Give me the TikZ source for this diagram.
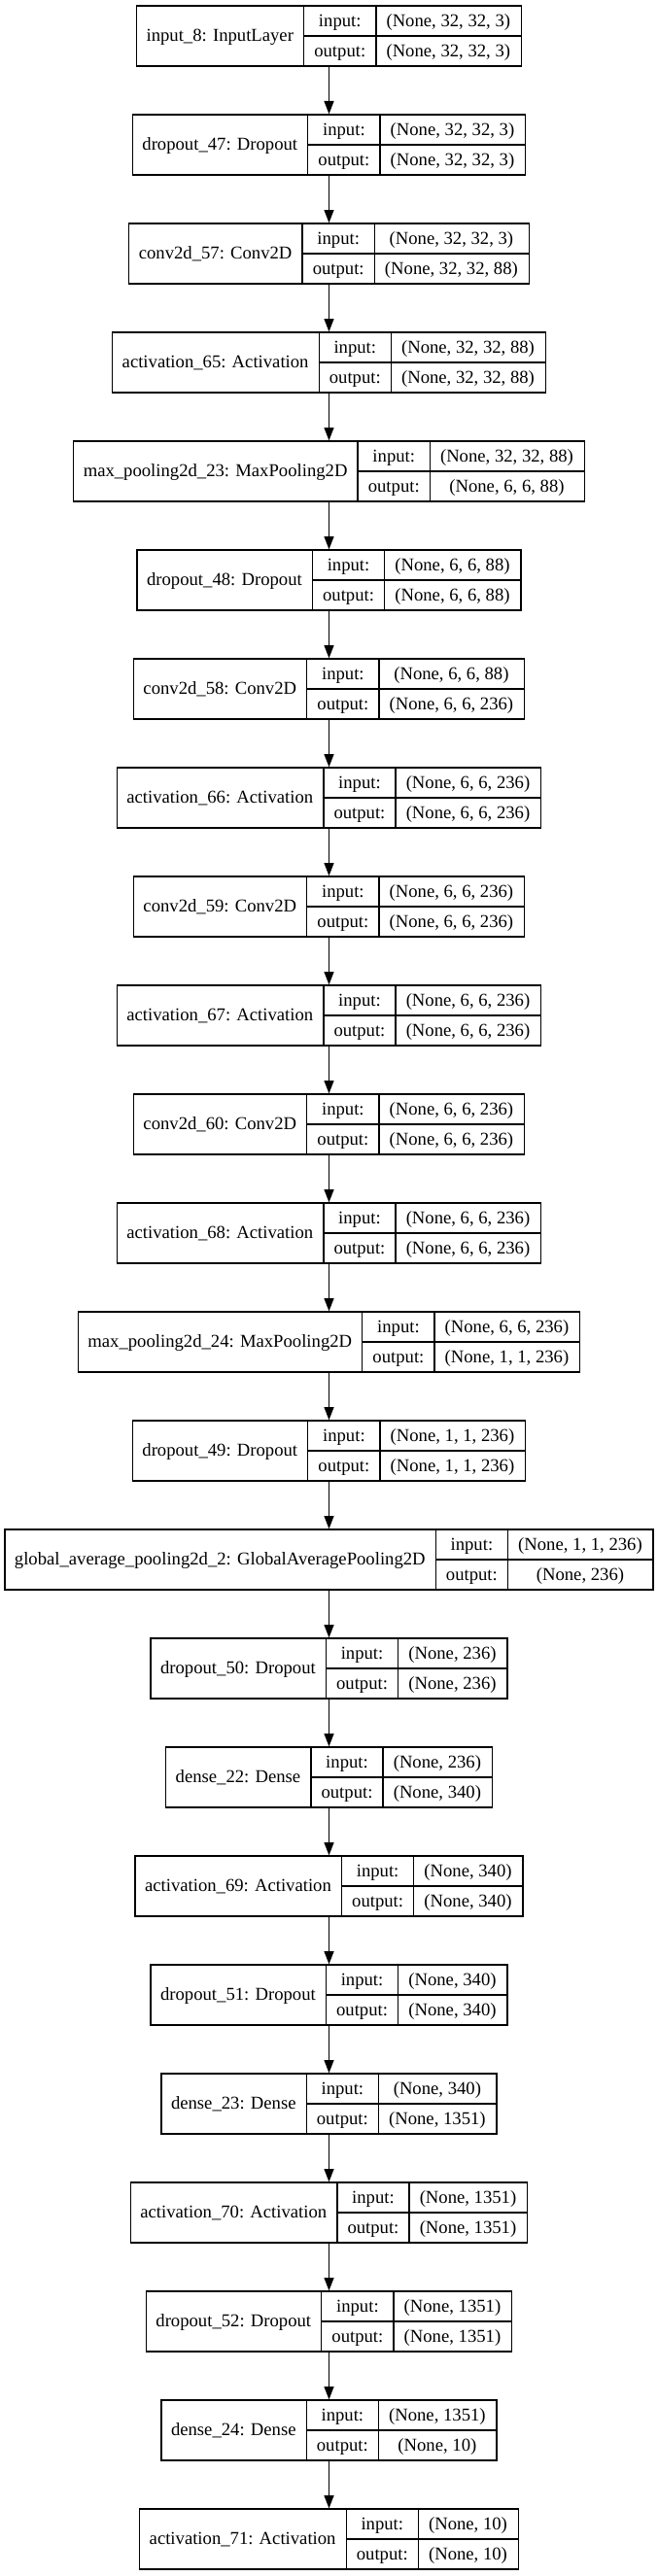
\documentclass[tikz,border=0pt]{standalone}
\usepackage{fontspec}
\setmainfont{Liberation Serif}
\usetikzlibrary{arrows.meta}
\newlength\wA \newlength\wB \newlength\wC \newlength\wD \newlength\wT
\newcommand\lf{\fontsize{14pt}{16.8pt}\selectfont}
\tikzset{
  recbox/.style={draw, line width=1pt, minimum height=46.5pt, inner sep=0pt},
  fld/.style={font=\lf, inner sep=0pt, text height=11.4pt, text depth=2.6pt, anchor=center},
  rule/.style={line width=1pt},
  arr/.style={line width=1pt, -{Triangle[length=10pt,width=7.5pt]}}
}
\newcommand\measure[3]{%
  \pgfinterruptpicture
  \settowidth\wA{\lf #1}\global\wA=\wA
  \settowidth\wB{\lf output:}\global\wB=\wB
  \settowidth\wC{\lf #2}\settowidth\wD{\lf #3}%
  \ifdim\wD>\wC \wC=\wD\fi
  \global\wC=\wC
  \endpgfinterruptpicture
  \global\advance\wA 16pt
  \global\advance\wB 16pt
  \global\advance\wC 16pt
  \global\wT=\wA \global\advance\wT\wB \global\advance\wT\wC
}
\newcommand\layer[5]{%
  \measure{#3}{#4}{#5}%
  \pgfmathsetmacro\yc{-(27.75+84*#2)}%
  \node[recbox, minimum width=\wT] (#1) at (253.875pt,\yc pt) {};
  \node[fld] (#1-name) at ([xshift=0.5*\wA]#1.west) {#3};
  \node[fld] (#1-inl) at ([xshift=\wA+0.5*\wB, yshift=11.625pt]#1.west) {input:};
  \node[fld] (#1-outl) at ([xshift=\wA+0.5*\wB, yshift=-11.625pt]#1.west) {output:};
  \node[fld] (#1-ins) at ([xshift=\wA+\wB+0.5*\wC, yshift=11.625pt]#1.west) {#4};
  \node[fld] (#1-outs) at ([xshift=\wA+\wB+0.5*\wC, yshift=-11.625pt]#1.west) {#5};
  \draw[rule] ([xshift=\wA]#1.north west) -- ([xshift=\wA]#1.south west);
  \draw[rule] ([xshift=\wA+\wB]#1.north west) -- ([xshift=\wA+\wB]#1.south west);
  \draw[rule] ([xshift=\wA]#1.west) -- (#1.east);
}
\begin{document}
\begin{tikzpicture}
\useasboundingbox (0,0) rectangle (507.75pt,-1988.25pt);
\layer{l0}{0}{input\_8: InputLayer}{(None, 32, 32, 3)}{(None, 32, 32, 3)}
\layer{l1}{1}{dropout\_47: Dropout}{(None, 32, 32, 3)}{(None, 32, 32, 3)}
\layer{l2}{2}{conv2d\_57: Conv2D}{(None, 32, 32, 3)}{(None, 32, 32, 88)}
\layer{l3}{3}{activation\_65: Activation}{(None, 32, 32, 88)}{(None, 32, 32, 88)}
\layer{l4}{4}{max\_pooling2d\_23: MaxPooling2D}{(None, 32, 32, 88)}{(None, 6, 6, 88)}
\layer{l5}{5}{dropout\_48: Dropout}{(None, 6, 6, 88)}{(None, 6, 6, 88)}
\layer{l6}{6}{conv2d\_58: Conv2D}{(None, 6, 6, 88)}{(None, 6, 6, 236)}
\layer{l7}{7}{activation\_66: Activation}{(None, 6, 6, 236)}{(None, 6, 6, 236)}
\layer{l8}{8}{conv2d\_59: Conv2D}{(None, 6, 6, 236)}{(None, 6, 6, 236)}
\layer{l9}{9}{activation\_67: Activation}{(None, 6, 6, 236)}{(None, 6, 6, 236)}
\layer{l10}{10}{conv2d\_60: Conv2D}{(None, 6, 6, 236)}{(None, 6, 6, 236)}
\layer{l11}{11}{activation\_68: Activation}{(None, 6, 6, 236)}{(None, 6, 6, 236)}
\layer{l12}{12}{max\_pooling2d\_24: MaxPooling2D}{(None, 6, 6, 236)}{(None, 1, 1, 236)}
\layer{l13}{13}{dropout\_49: Dropout}{(None, 1, 1, 236)}{(None, 1, 1, 236)}
\layer{l14}{14}{global\_average\_pooling2d\_2: GlobalAveragePooling2D}{(None, 1, 1, 236)}{(None, 236)}
\layer{l15}{15}{dropout\_50: Dropout}{(None, 236)}{(None, 236)}
\layer{l16}{16}{dense\_22: Dense}{(None, 236)}{(None, 340)}
\layer{l17}{17}{activation\_69: Activation}{(None, 340)}{(None, 340)}
\layer{l18}{18}{dropout\_51: Dropout}{(None, 340)}{(None, 340)}
\layer{l19}{19}{dense\_23: Dense}{(None, 340)}{(None, 1351)}
\layer{l20}{20}{activation\_70: Activation}{(None, 1351)}{(None, 1351)}
\layer{l21}{21}{dropout\_52: Dropout}{(None, 1351)}{(None, 1351)}
\layer{l22}{22}{dense\_24: Dense}{(None, 1351)}{(None, 10)}
\layer{l23}{23}{activation\_71: Activation}{(None, 10)}{(None, 10)}
\foreach \a/\b in {0/1,1/2,2/3,3/4,4/5,5/6,6/7,7/8,8/9,9/10,10/11,11/12,12/13,13/14,14/15,15/16,16/17,17/18,18/19,19/20,20/21,21/22,22/23}
  \draw[arr] (l\a.south) -- (l\b.north);
\end{tikzpicture}
\end{document}
